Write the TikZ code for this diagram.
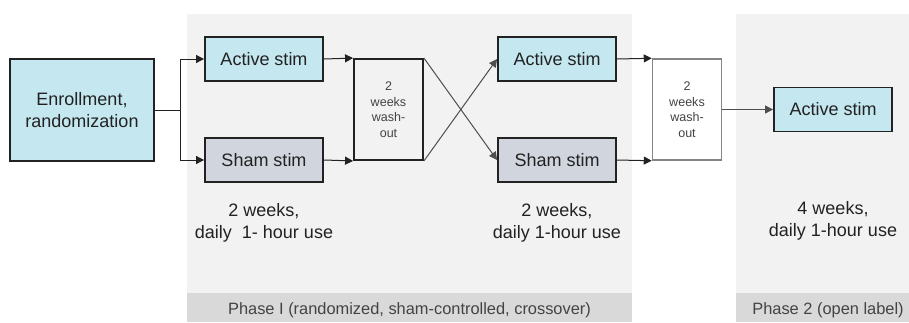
\documentclass[tikz,border=0pt]{standalone}
\usepackage{fontspec}
\setmainfont{Liberation Sans}
\usetikzlibrary{arrows.meta}
\definecolor{boxblue}{HTML}{C4E7F0}
\definecolor{boxgray}{HTML}{D0D5DE}
\definecolor{phasebg}{HTML}{F2F2F2}
\definecolor{phasestrip}{HTML}{D9D9D9}
\definecolor{ink}{HTML}{222222}
\tikzset{
  stepbox/.style={draw=ink, line width=1.4pt, inner sep=0pt, text=ink, font=\fontsize{13.5pt}{16.5pt}\selectfont, align=center},
  activebox/.style={stepbox, fill=boxblue, minimum width=88.5pt, minimum height=33pt},
  shambox/.style={stepbox, fill=boxgray, minimum width=88.5pt, minimum height=33pt},
  washbox/.style={draw=ink, line width=1.4pt, inner sep=0pt, text=ink!85, align=center, font=\fontsize{9.4pt}{11.6pt}\selectfont, minimum width=51.75pt, minimum height=75.75pt},
  conn/.style={draw=ink, line width=0.75pt, -{Triangle[length=6pt,width=6pt]}},
  cross/.style={draw=ink!80, line width=0.75pt, -{Triangle[length=6pt,width=6pt]}},
  note/.style={text=ink, align=center, font=\fontsize{13.5pt}{16.5pt}\selectfont, inner sep=0pt},
  phaselabel/.style={text=ink!85, font=\fontsize{12.3pt}{14pt}\selectfont, inner sep=0pt},
}
\begin{document}
\begin{tikzpicture}[x=0.75pt,y=-0.75pt]
\useasboundingbox (0,0) rectangle (909,322);
% backgrounds
\fill[phasebg] (187,14) rectangle (632,322);
\fill[phasestrip] (187,293) rectangle (632,322);
\fill[phasebg] (736,14) rectangle (909,322);
\fill[phasestrip] (736,293) rectangle (909,322);
% nodes
\node[stepbox, fill=boxblue, minimum width=108pt, minimum height=76.5pt] (enr) at (82,110) {Enrollment,\\randomization};
\node[activebox] (act1) at (264,59) {Active stim};
\node[shambox] (sham1) at (264,160) {Sham stim};
\node[washbox, fill=phasebg] (wo1) at (388.5,109.5) {2\\weeks\\wash-\\out};
\node[activebox] (act2) at (557,59) {Active stim};
\node[shambox] (sham2) at (557,160) {Sham stim};
\node[washbox, fill=white, draw=ink!55, line width=1.1pt] (wo2) at (687,109.5) {2\\weeks\\wash-\\out};
\node[activebox] (act3) at (833,109.5) {Active stim};
% notes
\node[note] (n1) at (264,223) {2 weeks,\\daily\ \ 1- hour use};
\node[note] (n2) at (557,223) {2 weeks,\\daily 1-hour use};
\node[note] (n3) at (833,221) {4 weeks,\\daily 1-hour use};
\node[phaselabel] (p1) at (409.5,310) {Phase I (randomized, sham-controlled, crossover)};
\node[phaselabel] (p2) at (828,310) {Phase 2 (open label)};
% connectors
\coordinate (sp) at (180,110);
\draw[draw=ink, line width=0.75pt] (enr.east) -- (sp);
\draw[conn] (sp) |- (act1.west);
\draw[conn] (sp) |- (sham1.west);
\draw[conn] (act1.east) -- (wo1.north west);
\draw[conn] (sham1.east) -- (wo1.south west);
\draw[cross] (wo1.north east) -- (sham2.west);
\draw[cross] (wo1.south east) -- (act2.west);
\draw[conn] (act2.east) -- (wo2.north west);
\draw[conn] (sham2.east) -- (wo2.south west);
\draw[cross] (wo2.east) -- (act3.west);
\end{tikzpicture}
\end{document}
